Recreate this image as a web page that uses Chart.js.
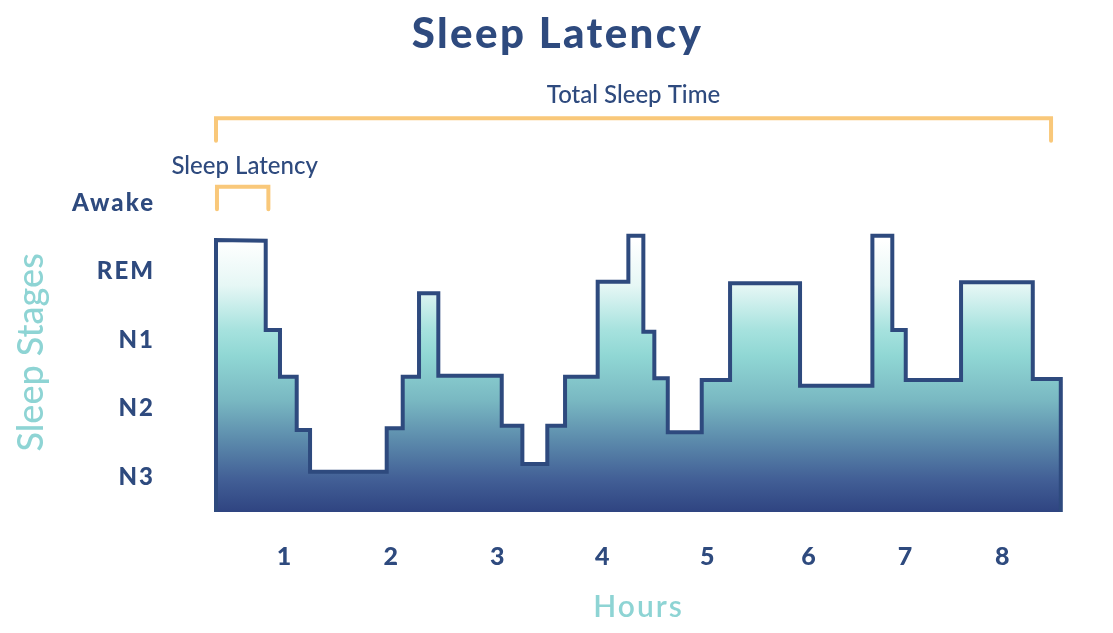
<!DOCTYPE html>
<html>
<head>
<meta charset="utf-8">
<script src="https://cdn.jsdelivr.net/npm/chart.js@4.4.1/dist/chart.umd.min.js"></script>
<style>
html,body{margin:0;padding:0;background:#ffffff;}
#wrap{width:1113px;height:633px;position:relative;}
</style>
</head>
<body>
<div id="wrap"><canvas id="c"></canvas></div>
<script>
// ---- data ----
const chartTitle = 'Sleep Latency';
const xAxisTitle = 'Hours';
const yAxisTitle = 'Sleep Stages';

const stageLabels = ['N3', 'N2', 'N1', 'REM', 'Awake'];
const stageValues = [1, 2, 3, 4, 5];

const hourTickLabels = ['1', '2', '3', '4', '5', '6', '7', '8'];
const hourTickPositions = [1, 2.04, 3.079, 4.102, 5.125, 6.11, 7.052, 8];

// hypnogram outline (hours, stage level)
const hours = [
  0.3275, 0.3275, 0.812, 0.812, 0.951, 0.951, 1.114, 1.114, 1.244, 1.244,
  1.991, 1.991, 2.147, 2.147, 2.306, 2.306, 2.494, 2.494, 3.112, 3.112,
  3.313, 3.313, 3.556, 3.556, 3.729, 3.729, 4.047, 4.047, 4.346, 4.346,
  4.492, 4.492, 4.599, 4.599, 4.730, 4.730, 5.061, 5.061, 5.337, 5.337,
  6.019, 6.019, 6.724, 6.724, 6.918, 6.918, 7.049, 7.049, 7.588, 7.588,
  8.287, 8.287, 8.560, 8.560
];
const stages = [
  0.49, 4.46, 4.45, 3.146, 3.146, 2.464, 2.464, 1.686, 1.686, 1.077,
  1.077, 1.711, 1.711, 2.464, 2.464, 3.682, 3.682, 2.479, 2.479, 1.749,
  1.749, 1.190, 1.190, 1.749, 1.749, 2.464, 2.464, 3.851, 3.851, 4.523,
  4.523, 3.121, 3.121, 2.441, 2.441, 1.653, 1.653, 2.416, 2.416, 3.828,
  3.828, 2.333, 2.333, 4.523, 4.523, 3.146, 3.146, 2.416, 2.416, 3.842,
  3.842, 2.431, 2.431, 0.49
];

// annotated spans (hours)
const bracketLabels = ['Total Sleep Time', 'Sleep Latency'];
const bracketStart = [0.3275, 0.337];
const bracketEnd = [8.465, 0.838];

// ---- styles ----
const NAVY = '#2e4a7e';
const TEAL = '#8ed4d4';
const ORANGE = '#f9c87a';
const FONT = 'Lato';

const points = hours.map((h, i) => ({ x: h, y: stages[i] }));

const decorPlugin = {
  id: 'decor',
  beforeDraw(chart) {
    // slightly wider tracking for axis tick labels
    chart.ctx.letterSpacing = '2px';
  },
  beforeDatasetsDraw(chart) {
    chart.ctx.letterSpacing = '0px';
  },
  afterDatasetsDraw(chart, args, opts) {
    const { ctx, scales: { x, y } } = chart;
    ctx.save();
    ctx.letterSpacing = '0px';
    ctx.strokeStyle = ORANGE;
    ctx.lineWidth = 4;
    ctx.lineCap = 'round';
    ctx.lineJoin = 'miter';
    bracketLabels.forEach((label, i) => {
      const lv = opts.levels[i];
      const x0 = x.getPixelForValue(bracketStart[i]);
      const x1 = x.getPixelForValue(bracketEnd[i]);
      const yt = y.getPixelForValue(lv.top);
      const yf = y.getPixelForValue(lv.foot);
      ctx.beginPath();
      ctx.moveTo(x0, yf);
      ctx.lineTo(x0, yt);
      ctx.lineTo(x1, yt);
      ctx.lineTo(x1, yf);
      ctx.stroke();
      ctx.fillStyle = NAVY;
      ctx.font = '500 24px ' + FONT;
      ctx.textAlign = 'center';
      ctx.textBaseline = 'middle';
      ctx.fillText(label, (x0 + x1) / 2 + lv.dx, y.getPixelForValue(lv.text));
    });
    // chart title
    ctx.fillStyle = NAVY;
    ctx.font = '900 42px ' + FONT;
    ctx.letterSpacing = '2.4px';
    ctx.textAlign = 'center';
    ctx.textBaseline = 'alphabetic';
    ctx.fillText(chartTitle, chart.width / 2 + 1, opts.titleBaseline);
    ctx.letterSpacing = '0px';
    // y axis title
    const a = chart.chartArea;
    ctx.translate(opts.yTitleX, (a.top + a.bottom) / 2 + opts.yTitleShift);
    ctx.rotate(-Math.PI / 2);
    ctx.fillStyle = TEAL;
    ctx.font = '500 36px ' + FONT;
    ctx.textAlign = 'center';
    ctx.textBaseline = 'middle';
    ctx.fillText(yAxisTitle, 0, 0);
    ctx.restore();
  }
};

new Chart(document.getElementById('c'), {
  type: 'line',
  data: {
    datasets: [{
      data: points,
      borderColor: NAVY,
      borderWidth: 4,
      borderJoinStyle: 'miter',
      pointRadius: 0,
      tension: 0,
      fill: 'start',
      clip: false,
      backgroundColor: (c) => {
        const { chart } = c;
        const a = chart.chartArea;
        if (!a) return 'rgba(0,0,0,0)';
        const g = chart.ctx.createLinearGradient(0, a.top, 0, a.bottom);
        g.addColorStop(0.0, '#ffffff');
        g.addColorStop(0.21, '#ffffff');
        g.addColorStop(0.34, '#e6f7f5');
        g.addColorStop(0.47, '#a6e2de');
        g.addColorStop(0.545, '#90d7d4');
        g.addColorStop(0.675, '#79b8c2');
        g.addColorStop(0.79, '#5c8bac');
        g.addColorStop(0.905, '#425f96');
        g.addColorStop(1.0, '#2f4481');
        return g;
      }
    }]
  },
  options: {
    responsive: true,
    maintainAspectRatio: false,
    animation: false,
    events: [],
    layout: { padding: { left: 0, right: 52, top: 168.75, bottom: 0 } },
    plugins: {
      legend: { display: false },
      tooltip: { enabled: false },
      title: { display: false },
      decor: {
        levels: [
          { top: 6.236, foot: 5.909, text: 6.569, dx: 0 },
          { top: 5.238, foot: 4.908, text: 5.54, dx: 2 }
        ],
        titleBaseline: 48,
        yTitleX: 31,
        yTitleShift: 12
      }
    },
    scales: {
      x: {
        type: 'linear',
        min: 0.3275,
        max: 8.562,
        afterBuildTicks: (s) => { s.ticks = hourTickPositions.map(v => ({ value: v })); },
        afterFit: (s) => { s.height = 121; },
        grid: { display: false, drawTicks: false },
        border: { display: false },
        ticks: {
          autoSkip: false,
          maxRotation: 0,
          padding: 30,
          color: NAVY,
          font: { family: FONT, size: 25, weight: '900' },
          callback: (v, i) => hourTickLabels[i]
        },
        title: {
          display: true,
          text: xAxisTitle,
          color: TEAL,
          font: { family: FONT, size: 30, weight: '600' },
          padding: { top: 0, bottom: 8 }
        }
      },
      y: {
        type: 'linear',
        min: 0.49,
        max: 5.5,
        afterBuildTicks: (s) => { s.ticks = stageValues.map(v => ({ value: v })); },
        afterFit: (s) => { s.width = 216; },
        grid: { display: false, drawTicks: false },
        border: { display: false },
        ticks: {
          autoSkip: false,
          padding: 61,
          color: NAVY,
          font: { family: FONT, size: 24, weight: '900' },
          callback: (v, i) => stageLabels[i]
        },
        title: { display: false }
      }
    }
  },
  plugins: [decorPlugin]
});
</script>
</body>
</html>
